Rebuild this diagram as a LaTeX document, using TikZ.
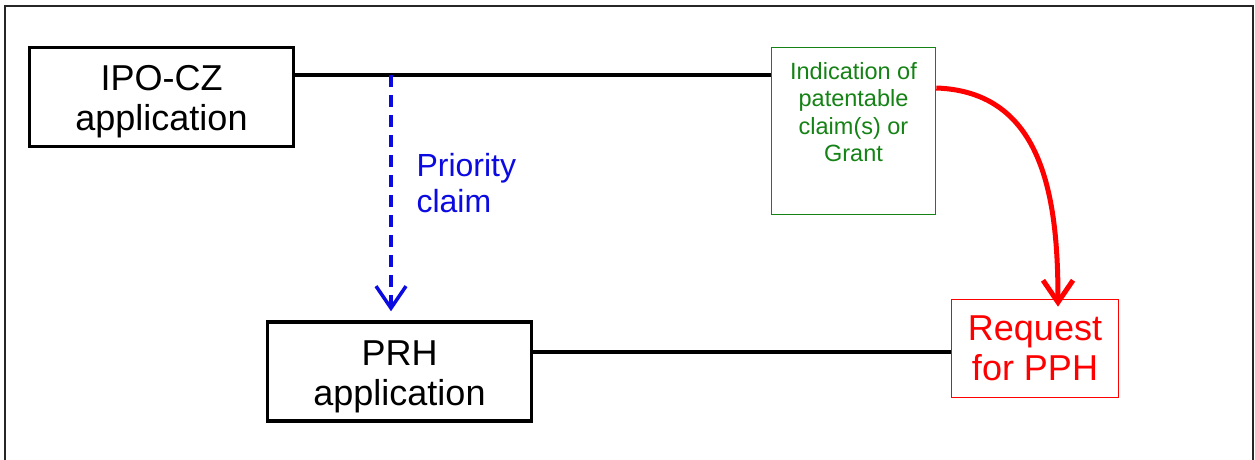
\documentclass[tikz,border=0pt]{standalone}
\usepackage{fontspec}
\setmainfont{Liberation Sans}
\usetikzlibrary{arrows.meta}

\definecolor{pphgreen}{RGB}{20,130,20}
\definecolor{pphblue}{RGB}{10,10,225}
\definecolor{pphred}{RGB}{255,0,0}

\begin{document}
\begin{tikzpicture}[x=1pt,y=-1pt,
    appbox/.style={draw,line width=3.5pt,minimum width=264pt,minimum height=99pt},
    apptext/.style={align=center,font=\fontsize{36}{40}\selectfont},
    indbox/.style={draw=pphgreen,line width=1.6pt,minimum width=164pt,minimum height=167pt},
    indtext/.style={text=pphgreen,align=center,font=\fontsize{23.5}{27.5}\selectfont},
    reqbox/.style={draw=pphred,text=pphred,line width=1.6pt,minimum width=167pt,minimum height=98pt,
      align=center,font=\fontsize{36}{40}\selectfont},
    flow/.style={line width=4pt},
    prio/.style={draw=pphblue,line width=3.5pt,dash pattern=on 12pt off 8pt,
      -{Straight Barb[length=22pt,width=30pt,line width=3.5pt]}},
    pph/.style={draw=pphred,line width=5pt,
      -{Straight Barb[length=22pt,width=30pt,line width=5pt]}}]
    \useasboundingbox (0,0) rectangle (1255,460);
    \draw [line width=1.5pt,black!85] (5,461) -- (5,6) -- (1253,6) -- (1253,461);
    \node [appbox] (ipo) at (161.5,97) {};
    \node [apptext] (ipot) at ([yshift=-5pt]ipo.center) {IPO-CZ\\application};
    \node [appbox] (prh) at (399.5,371.5) {};
    \node [apptext] (prht) at ([yshift=-5pt]prh.center) {PRH\\application};
    \node [indbox] (ind) at (853.5,131) {};
    \node [indtext,anchor=north] (indt) at ([yshift=-12pt]ind.north) {Indication of\\patentable\\claim(s) or\\Grant};
    \node [reqbox] (req) at (1035,348.5) {Request\\for PPH};
    \node [text=pphblue,align=left,anchor=west,font=\fontsize{32}{36}\selectfont] (prl) at (413,183) {Priority\\claim};
    \coordinate (top) at ([yshift=22pt]ipo.east);
    \coordinate (bot) at ([yshift=19.5pt]prh.east);
    \coordinate (split) at (391,75);
    \draw [flow] (top) -- (top -| ind.west);
    \draw [flow] (bot) -- (bot -| req.west);
    \draw [prio] (split) -- ([yshift=9pt]split |- prh.north);
    \draw [pph] ([yshift=43pt]ind.east) to[out=-2,in=90,looseness=1.1] ([xshift=23pt,yshift=-8pt]req.north);
  \end{tikzpicture}
\end{document}
